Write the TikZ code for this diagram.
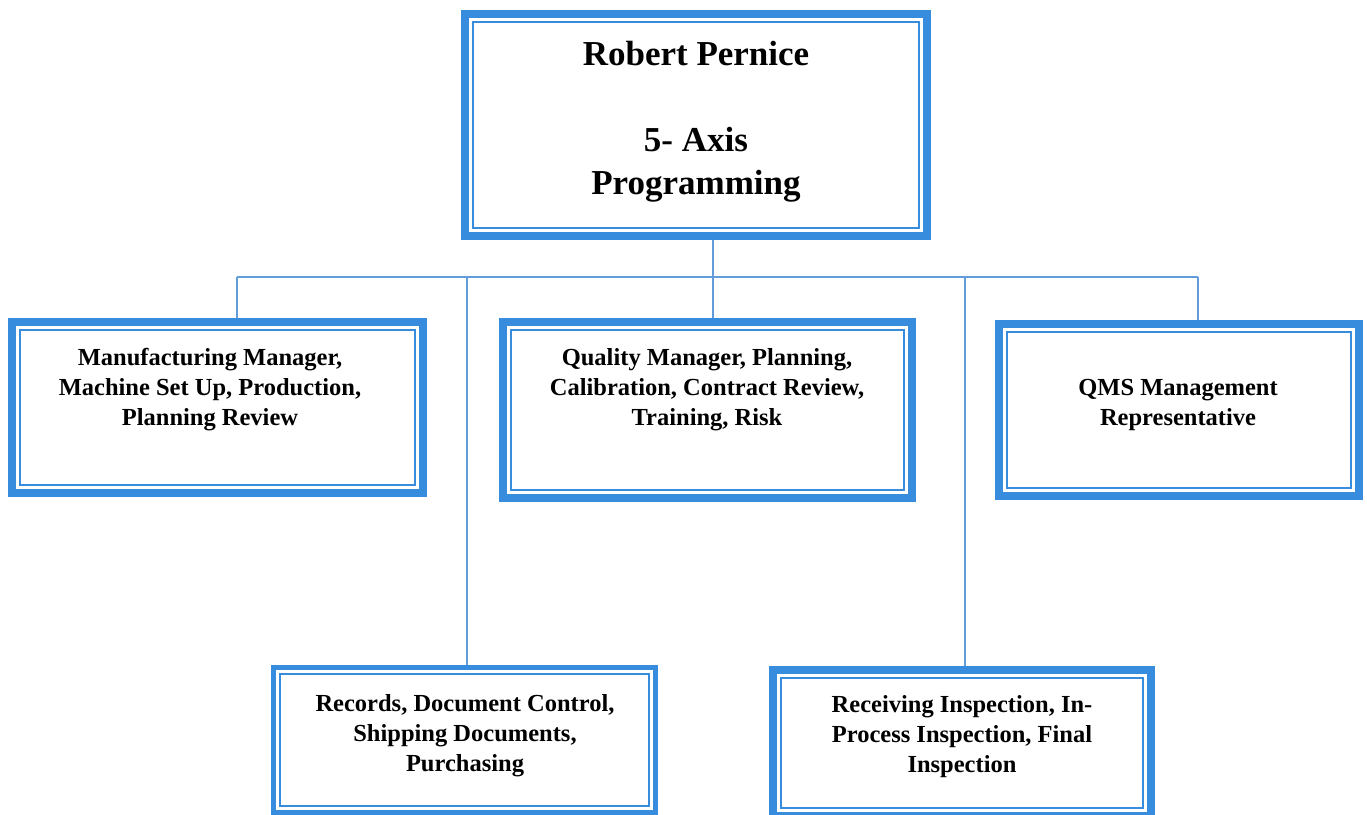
\documentclass[tikz,border=0pt]{standalone}
\usepackage{fontspec}
\setmainfont{Liberation Serif}
\definecolor{bandblue}{RGB}{56,140,222}
\definecolor{wireblue}{RGB}{98,156,218}
\tikzset{
  x=1pt, y=-1pt,
  framebox/.style={rectangle, draw=bandblue, line width=8pt, inner sep=0pt},
  slimbox/.style={rectangle, draw=bandblue, line width=5pt, inner sep=0pt},
  innerline/.style={rectangle, draw=bandblue, line width=1.8pt, inner sep=0pt},
  headtext/.style={align=center, font=\fontsize{35}{43}\selectfont\bfseries, inner sep=0pt},
  roletext/.style={align=center, font=\fontsize{24.5}{30}\selectfont\bfseries, inner sep=0pt},
  wire/.style={draw=wireblue, line width=2pt}
}
\begin{document}
\begin{tikzpicture}
\useasboundingbox[fill=white] (0,0) rectangle (1367,814);

% outer bands: centre at middle of outer edges, size = outer size minus band width
\node[framebox, minimum width=462pt, minimum height=222pt] (top) at (696,125) {};
\node[framebox, minimum width=411pt, minimum height=171pt] (mfg) at (217.5,407.5) {};
\node[framebox, minimum width=409pt, minimum height=176pt] (qual) at (707.5,410) {};
\node[framebox, minimum width=360pt, minimum height=172pt] (qms) at (1179,410) {};
\node[slimbox, minimum width=382pt, minimum height=145pt] (rec) at (464.5,740) {};
\node[framebox, minimum width=378pt, minimum height=146pt] (insp) at (962,743) {};

% thin inner rules of the double frames
\node[innerline, minimum width=446pt, minimum height=206pt] (topIn) at (top.center) {};
\node[innerline, minimum width=395pt, minimum height=155pt] (mfgIn) at (mfg.center) {};
\node[innerline, minimum width=393pt, minimum height=160pt] (qualIn) at (qual.center) {};
\node[innerline, minimum width=344pt, minimum height=156pt] (qmsIn) at (qms.center) {};
\node[innerline, minimum width=369pt, minimum height=132pt] (recIn) at (rec.center) {};
\node[innerline, minimum width=362pt, minimum height=130pt] (inspIn) at (insp.center) {};

% texts
\node[headtext] (topT) at (696,122) {Robert Pernice\\[43pt]5- Axis\\Programming};
\node[roletext] (mfgT) at (210,390) {Manufacturing Manager,\\Machine Set Up, Production,\\Planning Review};
\node[roletext] (qualT) at (707,390) {Quality Manager, Planning,\\Calibration, Contract Review,\\Training, Risk};
\node[roletext] (qmsT) at (1178,405) {QMS Management\\Representative};
\node[roletext] (recT) at (465,736) {Records, Document Control,\\Shipping Documents,\\Purchasing};
\node[roletext] (inspT) at (962,737) {Receiving Inspection, In-\\Process Inspection, Final\\Inspection};

% connectors
\coordinate (hub) at (713,277);
\coordinate (jL) at (237,277);
\coordinate (jR) at (1198,277);
\coordinate (jRec) at (467,277);
\coordinate (jInsp) at (965,277);
\draw[wire] (top.south -| hub) -- (hub);
\draw[wire] (jL) -- (jR);
\draw[wire] (jL) -- (mfg.north -| jL);
\draw[wire] (hub) -- (qual.north -| hub);
\draw[wire] (jR) -- (qms.north -| jR);
\draw[wire] (jRec) -- (rec.north -| jRec);
\draw[wire] (jInsp) -- (insp.north -| jInsp);
\end{tikzpicture}
\end{document}
